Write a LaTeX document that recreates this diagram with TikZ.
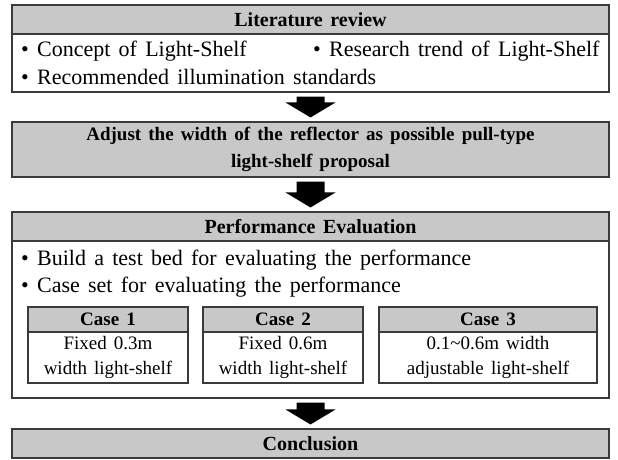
\documentclass[tikz,border=0pt]{standalone}
\usepackage{fontspec}
\setmainfont{Liberation Serif}[WordSpace=1.5]
\usetikzlibrary{calc}
\definecolor{hdrgray}{HTML}{C8C8C8}
\definecolor{edgegray}{HTML}{3A3A3A}
\newcommand\bodysize{\fontsize{22}{27}\selectfont}
\newcommand\hdrsize{\fontsize{20}{27}\selectfont}
\newcommand\adjsize{\fontsize{19}{27}\selectfont}
\newcommand\casesize{\fontsize{19}{25}\selectfont}
\tikzset{
  box/.style={draw=edgegray, line width=1.1pt, inner sep=0pt, anchor=center},
  hdr/.style={box, fill=hdrgray, font=\hdrsize\bfseries},
  casehdr/.style={box, fill=hdrgray, font=\casesize\bfseries},
  txt/.style={inner sep=0pt, anchor=base west, font=\bodysize},
  casebody/.style={box, fill=white, align=center, font=\casesize},
  blk/.style={fill=black},
}
\newcommand\blkarrow[2]{%
  \path ($(#1.south)+(0,4)$) coordinate (aT)
        ($(#2.north)+(0,-4)$) coordinate (aB)
        ($(aB)+(0,-15)$) coordinate (aH);
  \fill[blk] ($(aT)+(-14,0)$) -- ($(aT)+(14,0)$) -- ($(aH)+(14,0)$) -- ($(aH)+(25,0)$)
    -- (aB) -- ($(aH)+(-25,0)$) -- ($(aH)+(-14,0)$) -- cycle;}
\begin{document}
\begin{tikzpicture}[x=1pt,y=-1pt]
\fill[white] (0,0) rectangle (618,459);
% Literature review
\node[hdr, minimum width=597pt, minimum height=29pt] (lith) at (310.5,19.5) {Literature review};
\node[box, minimum width=597pt, minimum height=58pt] (litb) at (310.5,63) {};
\node[txt] (l1) at (21,56) {• Concept of Light-Shelf};
\node[txt] (l2) at (313,56) {• Research trend of Light-Shelf};
\node[txt] (l3) at (21,84) {• Recommended illumination standards};
% Adjust
\node[hdr, font=\adjsize\bfseries, minimum width=597pt, minimum height=55pt, align=center] (adj) at (310.5,149.5)
  {Adjust the width of the reflector as possible pull-type\\light-shelf proposal};
% Performance
\node[hdr, minimum width=597pt, minimum height=29pt] (perfh) at (310.5,226.5) {Performance Evaluation};
\node[box, minimum width=597pt, minimum height=157pt] (perfb) at (310.5,319.5) {};
\node[txt] (p1) at (21,265) {• Build a test bed for evaluating the performance};
\node[txt] (p2) at (21,292) {• Case set for evaluating the performance};
% Cases
\node[casehdr, minimum width=160pt, minimum height=25pt] (c1h) at (108,319.5) {Case 1};
\node[casebody, minimum width=160pt, minimum height=51pt] (c1b) at (108,357.5) {Fixed 0.3m\\width light-shelf};
\node[casehdr, minimum width=160pt, minimum height=25pt] (c2h) at (283,319.5) {Case 2};
\node[casebody, minimum width=160pt, minimum height=51pt] (c2b) at (283,357.5) {Fixed 0.6m\\width light-shelf};
\node[casehdr, minimum width=218pt, minimum height=25pt] (c3h) at (488,319.5) {Case 3};
\node[casebody, minimum width=218pt, minimum height=51pt] (c3b) at (488,357.5) {0.1\char`~0.6m width\\adjustable light-shelf};
% Conclusion
\node[hdr, minimum width=597pt, minimum height=29pt] (conc) at (310.5,443.5) {Conclusion};
% Arrows
\blkarrow{litb}{adj}
\blkarrow{adj}{perfh}
\blkarrow{perfb}{conc}
\end{tikzpicture}
\end{document}
